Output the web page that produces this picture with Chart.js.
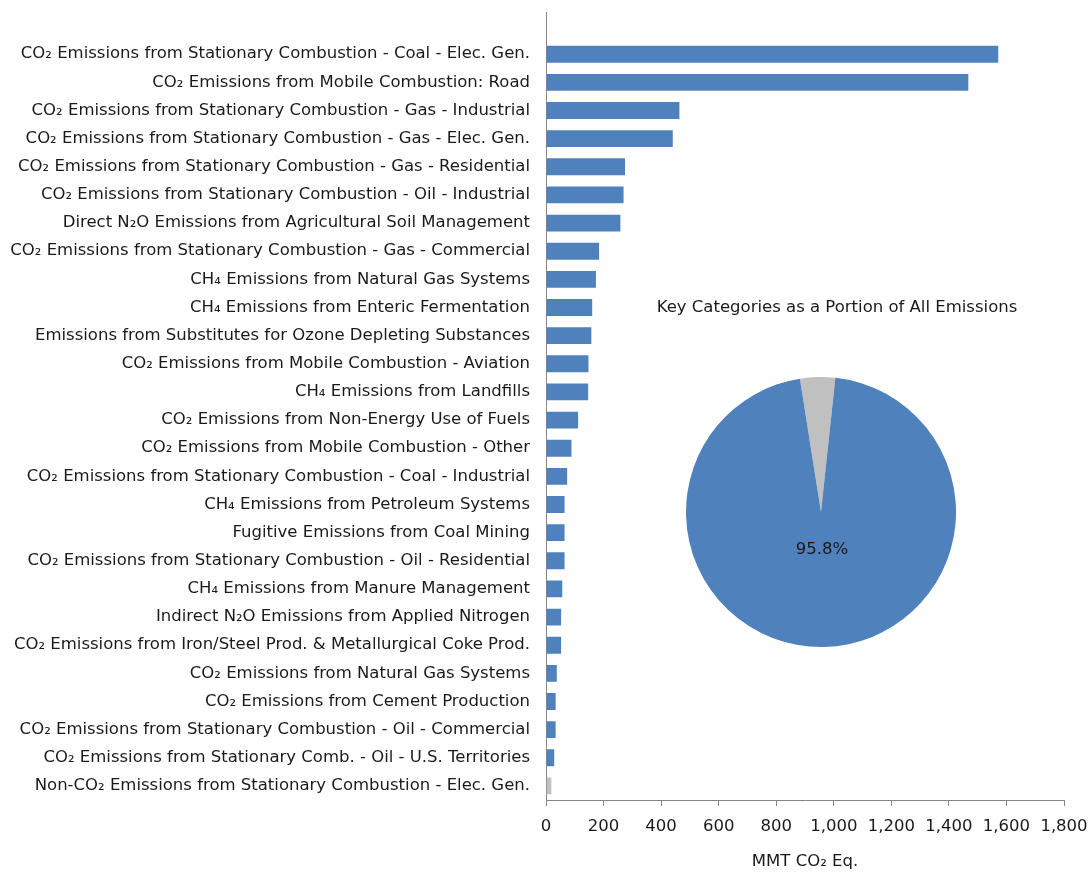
<!DOCTYPE html>
<html>
<head>
<meta charset="utf-8">
<script src="https://cdn.jsdelivr.net/npm/chart.js@4"></script>
<style>
  html, body { margin: 0; padding: 0; background: #fff; }
  #wrap { position: relative; width: 1091px; height: 873px; }
  #bar { position: absolute; left: 0; top: 0; }
  #pie { position: absolute; left: 686px; top: 377px; }
  #pieTitle { position: absolute; left: 587px; top: 297px; width: 500px; text-align: center;
    font-family: "DejaVu Sans", sans-serif; font-size: 16.5px; color: #1a1a1a; white-space: nowrap; }
</style>
</head>
<body>
<div id="wrap">
  <canvas id="bar" width="1091" height="873"></canvas>
  <div id="pieTitle">Key Categories as a Portion of All Emissions</div>
  <canvas id="pie" width="270" height="270"></canvas>
</div>
<script>
const categories = [
  "",
  "CO₂ Emissions from Stationary Combustion - Coal - Elec. Gen.",
  "CO₂ Emissions from Mobile Combustion: Road",
  "CO₂ Emissions from Stationary Combustion - Gas - Industrial",
  "CO₂ Emissions from Stationary Combustion - Gas - Elec. Gen.",
  "CO₂ Emissions from Stationary Combustion - Gas - Residential",
  "CO₂ Emissions from Stationary Combustion - Oil - Industrial",
  "Direct N₂O Emissions from Agricultural Soil Management",
  "CO₂ Emissions from Stationary Combustion - Gas - Commercial",
  "CH₄ Emissions from Natural Gas Systems",
  "CH₄ Emissions from Enteric Fermentation",
  "Emissions from Substitutes for Ozone Depleting Substances",
  "CO₂ Emissions from Mobile Combustion - Aviation",
  "CH₄ Emissions from Landfills",
  "CO₂ Emissions from Non-Energy Use of Fuels",
  "CO₂ Emissions from Mobile Combustion - Other",
  "CO₂ Emissions from Stationary Combustion - Coal - Industrial",
  "CH₄ Emissions from Petroleum Systems",
  "Fugitive Emissions from Coal Mining",
  "CO₂ Emissions from Stationary Combustion - Oil - Residential",
  "CH₄ Emissions from Manure Management",
  "Indirect N₂O Emissions from Applied Nitrogen",
  "CO₂ Emissions from Iron/Steel Prod. & Metallurgical Coke Prod.",
  "CO₂ Emissions from Natural Gas Systems",
  "CO₂ Emissions from Cement Production",
  "CO₂ Emissions from Stationary Combustion - Oil - Commercial",
  "CO₂ Emissions from Stationary Comb. - Oil - U.S. Territories",
  "Non-CO₂ Emissions from Stationary Combustion - Elec. Gen."
];
const emissions = [
  null,
  1575, 1471, 467, 444, 278, 273, 262, 188, 177, 164, 161, 151, 150,
  115, 92, 77, 68, 68, 68, 60, 56, 56, 41, 37, 37, 32, 22
];
const barColors = emissions.map((v, i) => i === categories.length - 1 ? "#C0C0C0" : "#4F81BD");
const xTicks = [0, 200, 400, 600, 800, 1000, 1200, 1400, 1600, 1800];
const pieLabels = ["Other Emissions", "Key Categories"];
const pieValues = [4.2, 95.8];
const pieColors = ["#C0C0C0", "#4F81BD"];

const FONT = "DejaVu Sans";
const FS = 16.5;
const TXT = "#1a1a1a";
const AX = "#868686";

new Chart(document.getElementById("bar"), {
  type: "bar",
  data: {
    labels: categories,
    datasets: [{
      data: emissions,
      backgroundColor: barColors,
      borderColor: "rgba(255,255,255,0.45)",
      borderWidth: 1,
      barPercentage: 0.67,
      categoryPercentage: 1.0
    }]
  },
  options: {
    indexAxis: "y",
    responsive: false,
    animation: false,
    layout: { padding: { top: 12, right: 27, bottom: 0, left: 0 } },
    plugins: { legend: { display: false }, tooltip: { enabled: false } },
    scales: {
      y: {
        afterFit: s => { s.width = 546; s.paddingTop = 0; s.paddingBottom = 0; },
        grid: { display: false, drawTicks: false },
        border: { color: AX, width: 1 },
        ticks: { color: TXT, font: { family: FONT, size: FS }, padding: 16, autoSkip: false }
      },
      x: {
        min: 0, max: 1800,
        afterFit: s => { s.height = 73; s.paddingLeft = 0; s.paddingRight = 0; },
        afterBuildTicks: s => { s.ticks = xTicks.map(v => ({ value: v })); },
        grid: { display: true, drawOnChartArea: false, drawTicks: true, tickLength: 6, color: AX },
        border: { color: AX, width: 1 },
        ticks: {
          color: TXT, font: { family: FONT, size: FS }, padding: 11, maxRotation: 0,
          callback: v => v.toLocaleString("en-US")
        },
        title: {
          display: true, text: "MMT CO₂ Eq.", color: TXT,
          font: { family: FONT, size: FS }, padding: { top: 0, bottom: 1 }
        }
      }
    }
  }
});

const pieLabelPlugin = {
  id: "pieLabel",
  afterDraw(chart) {
    const meta = chart.getDatasetMeta(0);
    const arc = meta.data[1];
    const mid = (arc.startAngle + arc.endAngle) / 2;
    const r = arc.outerRadius * 0.28;
    const ctx = chart.ctx;
    ctx.save();
    ctx.font = FS + "px '" + FONT + "'";
    ctx.fillStyle = TXT;
    ctx.textAlign = "center";
    ctx.textBaseline = "middle";
    ctx.fillText(pieValues[1].toFixed(1) + "%", arc.x + Math.cos(mid) * r, arc.y + Math.sin(mid) * r);
    ctx.restore();
  }
};

new Chart(document.getElementById("pie"), {
  type: "pie",
  data: {
    labels: pieLabels,
    datasets: [{ data: pieValues, backgroundColor: pieColors, borderWidth: 0 }]
  },
  options: {
    responsive: false,
    animation: false,
    rotation: -9,
    layout: { padding: 0 },
    plugins: { legend: { display: false }, tooltip: { enabled: false } }
  },
  plugins: [pieLabelPlugin]
});
</script>
</body>
</html>
